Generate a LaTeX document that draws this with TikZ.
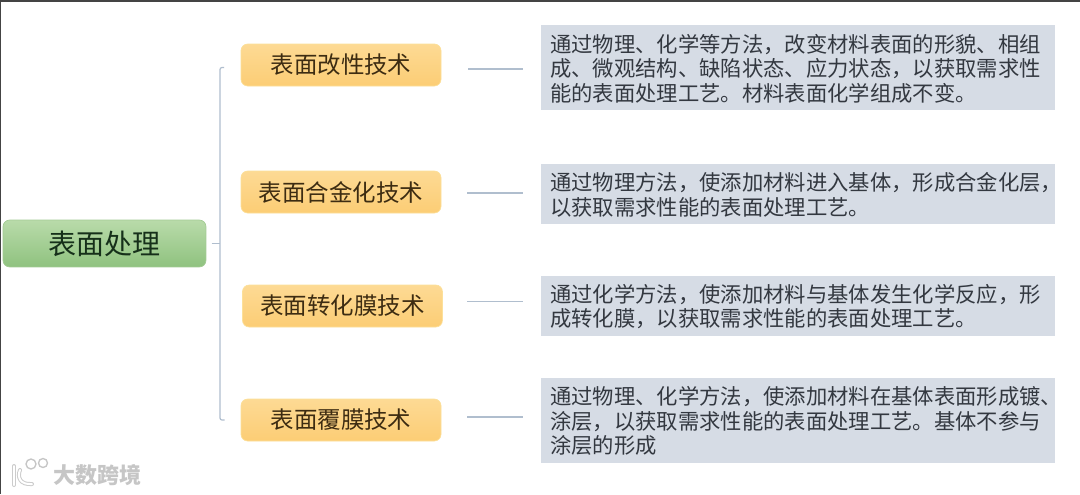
\documentclass[tikz,border=0pt]{standalone}
\usepackage{fontspec}
\setmainfont{Noto Sans CJK SC}
\definecolor{edgeblue}{HTML}{B0BECE}
\definecolor{descfill}{HTML}{D6DCE5}
\definecolor{frame}{HTML}{444444}
\definecolor{rootTop}{HTML}{B9DBAA}
\definecolor{rootBot}{HTML}{8FC27F}
\definecolor{rootEdge}{HTML}{A3CB94}
\definecolor{rootText}{HTML}{16301A}
\definecolor{orangeTop}{HTML}{FDDA94}
\definecolor{orangeBot}{HTML}{FCCD75}
\definecolor{orangeEdge}{HTML}{FCE09A}
\definecolor{orangeText}{HTML}{3D2C12}
\definecolor{descText}{HTML}{333840}
\tikzset{
  root/.style={draw=rootEdge,line width=0.5pt,rounded corners=5pt,top color=rootTop,bottom color=rootBot,minimum width=152.2pt,minimum height=35.2pt,inner sep=0pt,text=rootText,font=\fontsize{21}{24}\selectfont},
  topic/.style={draw=orangeEdge,line width=0.5pt,rounded corners=5pt,top color=orangeTop,bottom color=orangeBot,minimum width=150pt,minimum height=31.5pt,inner sep=0pt,text=orangeText,font=\fontsize{17.6}{20}\selectfont},
  desc/.style={fill=descfill,draw=none,minimum width=385.5pt,inner sep=0pt,anchor=north west},
  desctext/.style={text=descText,align=left,anchor=west,inner sep=0pt,font=\fontsize{16}{18.4}\selectfont},
  link/.style={draw=edgeblue,line width=0.9pt},
}
\begin{document}
\begin{tikzpicture}[x=0.75pt,y=-0.75pt]
\useasboundingbox (0,0) rectangle (1080,494);
\fill[white] (0,0) rectangle (1080,494);
\fill[frame] (0,0) rectangle (1080,1.5);
\fill[frame] (0,0) rectangle (1,494);

% nodes
\node[root] (r) at (104.5,243.5) {表面处理};
\node[topic] (t1) at (341,65) {表面改性技术};
\node[topic] (t2) at (341,192) {表面合金化技术};
\node[topic] (t3) at (342.5,306) {表面转化膜技术};
\node[topic] (t4) at (341,420) {表面覆膜技术};

\node[desc,minimum height=63.75pt] (d1) at (541,25) {};
\node[desc,minimum height=45pt] (d2) at (541,164) {};
\node[desc,minimum height=45pt] (d3) at (541,276) {};
\node[desc,minimum height=63.75pt] (d4) at (541,378) {};

\node[desctext] (x1) at (550,68.5) {通过物理、化学等方法，改变材料表面的形貌、相组\\成、微观结构、缺陷状态、应力状态，以获取需求性\\能的表面处理工艺。材料表面化学组成不变。};
\node[desctext] (x2) at (550,195) {通过物理方法，使添加材料进入基体，形成合金化层，\\以获取需求性能的表面处理工艺。};
\node[desctext] (x3) at (550,306.5) {通过化学方法，使添加材料与基体发生化学反应，形\\成转化膜，以获取需求性能的表面处理工艺。};
\node[desctext] (x4) at (550,421) {通过物理、化学方法，使添加材料在基体表面形成镀、\\涂层，以获取需求性能的表面处理工艺。基体不参与\\涂层的形成};

% connector ends
\coordinate (bt) at (220,67.5);
\coordinate (bb) at (220,420);
\coordinate (bm) at (220,243.5);
\coordinate (l1a) at (468,69); \coordinate (l1b) at (523,69);
\coordinate (l2a) at (467,193); \coordinate (l2b) at (523,193);
\coordinate (l3a) at (467,301.5); \coordinate (l3b) at (523,301.5);
\coordinate (l4a) at (467,417); \coordinate (l4b) at (523,417);

\draw[link,rounded corners=1.5pt] ([xshift=3pt]bt) -- (bt) -- (bb) -- ([xshift=3.5pt]bb);
\draw[link] (r.east) ++(4pt,0) -- (bm);
\draw[link] (l1a) -- (l1b);
\draw[link] (l2a) -- (l2b);
\draw[link] (l3a) -- (l3b);
\draw[link] (l4a) -- (l4b);

% watermark
\begin{scope}[line cap=round]
\draw[gray!40,line width=3pt] (14,466) -- (14,485);
\draw[gray!40,line width=3pt] (20,470) .. controls (17,477) and (20,485) .. (32,484);
\draw[white,line width=1.5pt] (14,466) -- (14,485);
\draw[white,line width=1.5pt] (20,470) .. controls (17,477) and (20,485) .. (32,484);
\end{scope}
\draw[gray!45,line width=1pt,fill=white] (31,464) circle (5);
\draw[gray!45,line width=1pt,fill=white] (43,463) circle (4.5);
\node[inner sep=0pt,text=gray!45,font=\fontsize{16.5}{18}\selectfont\bfseries] (wm) at (97,475) {大数跨境};
\end{tikzpicture}
\end{document}
